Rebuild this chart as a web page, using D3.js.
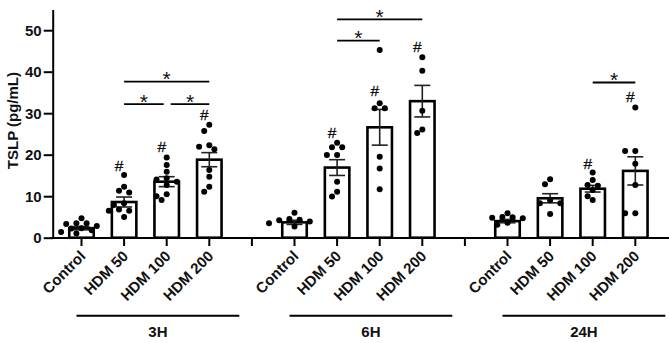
<!DOCTYPE html>
<html>
<head>
<meta charset="utf-8">
<script src="https://cdn.jsdelivr.net/npm/d3@7"></script>
<style>
  body { margin: 0; background: #fff; }
  text { font-family: 'Liberation Sans', Arial, sans-serif; }
</style>
</head>
<body>
<div class="canvas"></div>
<script>
// categories
const groups = ['3H', '6H', '24H'];
const doses = ['Control', 'HDM 50', 'HDM 100', 'HDM 200'];
const yTicks = [0, 10, 20, 30, 40, 50];

// bar means and SEM per time point
const mean3H = [2.3, 8.6, 13.5, 18.8];
const sem3H = [0.4, 1.2, 1.2, 1.7];
const mean6H = [3.7, 16.9, 26.6, 32.9];
const sem6H = [0.5, 1.9, 4.3, 3.8];
const mean24H = [4.0, 9.5, 11.8, 16.1];
const sem24H = [0.4, 1.1, 0.8, 3.4];

// individual animals
const pts3H = [
    [4.7, 3.5, 3.5, 3.3, 2.8, 2.3, 2.2, 1.8, 1.4, 1.0],
    [15.1, 12.3, 11.3, 10.9, 8.3, 7.9, 6.8, 6.5, 6.5, 5.0],
    [19.3, 17.5, 15.9, 14.3, 14.0, 13.5, 12.7, 10.5, 10.0, 9.1],
    [27.2, 25.7, 22.3, 21.9, 21.3, 16.3, 14.7, 12.3, 11.1]
];
const pts6H = [
    [6.0, 4.5, 4.3, 4.2, 3.9, 3.5, 2.7],
    [22.9, 21.8, 21.8, 19.9, 19.9, 13.5, 11.1, 9.9],
    [45.2, 32.4, 31.2, 31.2, 19.5, 16.7, 11.7],
    [43.5, 40.2, 30.6, 26.1, 25.2]
];
const pts24H = [
    [5.9, 5.0, 4.9, 4.8, 4.7, 3.6, 3.1],
    [14.1, 12.9, 9.0, 8.3, 8.3, 5.7],
    [15.7, 13.9, 12.7, 12.5, 11.5, 10.0, 9.1],
    [31.4, 20.9, 20.9, 17.8, 12.7, 5.9, 5.9]
];

// '#' vs control, level in pg/mL (null = none)
const hash3H = [null, 17.5, 21.9, 29.6];
const hash6H = [null, 25.4, 35.4, 46.0];
const hash24H = [null, null, 18.0, 34.0];

// '*' comparisons: [from dose, to dose, level]
const sig3H = [[1, 3, 37.6], [1, 2, 32.2], [2, 3, 32.2]];
const sig6H = [[1, 3, 52.6], [1, 2, 47.5]];
const sig24H = [[2, 3, 37.4]];

const W = 669, H = 343;
const svg = d3.select('.canvas').append('svg')
    .attr('width', W)
    .attr('height', H);

const table = [
    {g: '3H', mean: mean3H, sem: sem3H, pts: pts3H, hash: hash3H, sig: sig3H},
    {g: '6H', mean: mean6H, sem: sem6H, pts: pts6H, hash: hash6H, sig: sig6H},
    {g: '24H', mean: mean24H, sem: sem24H, pts: pts24H, hash: hash24H, sig: sig24H}
];

// slots along x, with an empty slot between time points
const slots = [];
groups.forEach((g, i) => {
    doses.forEach(d => slots.push(g + '|' + d));
    if (i < groups.length - 1) slots.push('gap' + i);
});

const y = d3.scaleLinear().domain([0, 55]).range([237.7, 9.45]);
const x = d3.scaleBand().domain(slots).range([60.2, 656.6]).padding(0);
const cx = k => x(k) + x.bandwidth() / 2;
const axisY = 238;
const axisX = 52.7;
const barW = 24.5;
const whisk = 16;
const r = 3;

// axes
const yAxis = svg.append('g')
    .attr('transform', `translate(${axisX},0)`)
    .call(d3.axisLeft(y).tickValues(yTicks).tickSize(9).tickSizeOuter(0).tickPadding(2));
yAxis.select('.domain').attr('stroke-width', 2);
yAxis.selectAll('.tick line').attr('stroke-width', 2);
yAxis.selectAll('text')
    .attr('font-size', 15).attr('font-weight', 'bold').attr('fill', '#111')
    .style('font-family', "'Liberation Sans', Arial, sans-serif");

const xAxis = svg.append('g')
    .attr('transform', `translate(0,${axisY})`)
    .call(d3.axisBottom(x).tickSize(8).tickSizeOuter(0)
        .tickFormat(k => k.startsWith('gap') ? '' : k.split('|')[1]));
xAxis.select('.domain').remove();
xAxis.selectAll('.tick line').attr('stroke-width', 2);
xAxis.selectAll('text')
    .attr('y', 0).attr('dy', 0)
    .attr('text-anchor', 'end')
    .attr('transform', 'translate(5,19) rotate(-45)')
    .attr('font-size', 15).attr('font-weight', 'bold').attr('fill', '#111')
    .style('font-family', "'Liberation Sans', Arial, sans-serif");

svg.append('line')
    .attr('x1', axisX - 1).attr('x2', W)
    .attr('y1', axisY).attr('y2', axisY)
    .attr('stroke', '#000').attr('stroke-width', 2);

svg.append('text')
    .attr('transform', `translate(18,${(y(0) + y(55)) / 2 - 3}) rotate(-90)`)
    .attr('text-anchor', 'middle')
    .attr('font-size', 15).attr('font-weight', 'bold').attr('fill', '#111')
    .text('TSLP (pg/mL)');

// simple deterministic swarm: each point takes the nearest free horizontal offset
function swarm(vals) {
    const placed = [];
    const step = 2 * r * 0.85;
    vals.forEach(v => {
        const py = y(v);
        for (let n = 0; n < 20; n++) {
            const off = n === 0 ? 0 : Math.ceil(n / 2) * step * (n % 2 ? -1 : 1);
            const ok = placed.every(p => Math.hypot(p.dx - off, p.py - py) >= 2 * r + 0.3);
            if (ok) { placed.push({dx: off, py: py}); break; }
        }
    });
    return placed;
}

table.forEach(t => {
    const grp = svg.append('g');
    doses.forEach((d, i) => {
        const c = cx(t.g + '|' + d);
        const m = t.mean[i], s = t.sem[i];

        grp.append('rect')
            .attr('x', c - barW / 2).attr('y', y(m))
            .attr('width', barW).attr('height', y(0) - y(m))
            .attr('fill', '#fff').attr('stroke', '#000').attr('stroke-width', 2.6);

        // error bar
        grp.append('line')
            .attr('x1', c).attr('x2', c)
            .attr('y1', y(m - s)).attr('y2', y(m + s))
            .attr('stroke', '#222').attr('stroke-width', 1.6);
        [m - s, m + s].forEach(v => {
            grp.append('line')
                .attr('x1', c - whisk / 2).attr('x2', c + whisk / 2)
                .attr('y1', y(v)).attr('y2', y(v))
                .attr('stroke', '#222').attr('stroke-width', 1.6);
        });

        // points
        grp.selectAll(null)
            .data(swarm(t.pts[i]))
            .enter().append('circle')
            .attr('cx', p => c + p.dx)
            .attr('cy', p => p.py)
            .attr('r', r)
            .attr('fill', '#000');

        if (t.hash[i] != null) {
            grp.append('text')
                .attr('x', c - 5).attr('y', y(t.hash[i]) + 5.5)
                .attr('text-anchor', 'middle')
                .attr('font-size', 15.5).attr('fill', '#111')
                .attr('stroke', '#111').attr('stroke-width', 0.3)
                .text('#');
        }
    });

    // significance lines
    t.sig.forEach(sg => {
        let x1 = cx(t.g + '|' + doses[sg[0]]);
        let x2 = cx(t.g + '|' + doses[sg[1]]);
        const same = t.sig.filter(o => o !== sg && o[2] === sg[2]);
        if (same.some(o => o[0] === sg[1])) x2 -= 3;
        if (same.some(o => o[1] === sg[0])) x1 += 4;
        const ly = y(sg[2]);
        grp.append('line')
            .attr('x1', x1).attr('x2', x2)
            .attr('y1', ly).attr('y2', ly)
            .attr('stroke', '#000').attr('stroke-width', 1.8);
        grp.append('text')
            .attr('x', (x1 + x2) / 2).attr('y', ly + 4.5)
            .attr('text-anchor', 'middle')
            .attr('font-size', 21).attr('fill', '#111')
            .text('*');
    });

    // time point bracket
    const gx1 = cx(t.g + '|' + doses[0]) - 5;
    const gx2 = cx(t.g + '|' + doses[3]) + 30;
    grp.append('line')
        .attr('x1', gx1).attr('x2', gx2)
        .attr('y1', 315.7).attr('y2', 315.7)
        .attr('stroke', '#000').attr('stroke-width', 2);
    grp.append('text')
        .attr('x', (gx1 + gx2) / 2).attr('y', 336.7)
        .attr('text-anchor', 'middle')
        .attr('font-size', 15).attr('font-weight', 'bold').attr('fill', '#111')
        .text(t.g);
});
</script>
</body>
</html>
